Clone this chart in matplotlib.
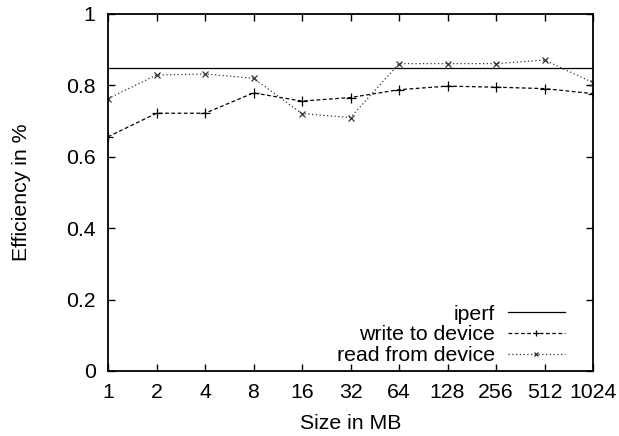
import matplotlib
matplotlib.use("Agg")
import matplotlib.pyplot as plt
import numpy as np

sizes = ["1", "2", "4", "8", "16", "32", "64", "128", "256", "512", "1024"]
iperf = 0.848
write_vals = [0.656, 0.722, 0.722, 0.779, 0.756, 0.766, 0.788, 0.798, 0.795, 0.791, 0.777]
read_vals = [0.763, 0.829, 0.832, 0.820, 0.721, 0.710, 0.861, 0.861, 0.861, 0.871, 0.808]

plt.rcParams['font.family'] = ['Liberation Sans', 'DejaVu Sans']
FS = 15.3

fig = plt.figure(figsize=(6.19, 4.36), dpi=100)
ax = fig.add_axes([108/619, 1-371/436, (593-108)/619, (371-14)/436])

x = np.arange(len(sizes))
ax.axhline(iperf, color='black', lw=0.9, label='iperf')
ax.plot(x, write_vals, color='black', lw=0.9, ls=(0, (3, 2)), marker='+', ms=7,
        mew=0.9, label='write to device')
ax.plot(x, read_vals, color='#333333', lw=0.9, ls=(0, (1, 2)), marker='x', ms=5,
        mew=0.9, label='read from device')

ax.set_xlim(0, len(sizes) - 1)
ax.set_ylim(0, 1)
ax.set_xticks(x)
ax.set_xticklabels(sizes)
ax.set_yticks([0, 0.2, 0.4, 0.6, 0.8, 1])
ax.set_yticklabels(["0", "0.2", "0.4", "0.6", "0.8", "1"])
ax.tick_params(axis='x', pad=9)
ax.tick_params(axis='y', pad=9)
ax.tick_params(direction='in', top=True, right=True, length=5, width=1, labelsize=FS)
for s in ax.spines.values():
    s.set_linewidth(1.3)

ax.set_xlabel("Size in MB", fontsize=FS, labelpad=8)
ax.set_ylabel("Efficiency in %", fontsize=FS, labelpad=25)

leg = ax.legend(loc='lower right', frameon=False, markerfirst=False, fontsize=FS,
                handlelength=2.7, labelspacing=0.08, borderpad=0, borderaxespad=0,
                handletextpad=0.6, markerscale=0.7,
                bbox_to_anchor=(565/619, 1-(365)/436), bbox_transform=fig.transFigure)
for t in leg.get_texts():
    t.set_ha('right')

fig.savefig("out.png", dpi=100)
